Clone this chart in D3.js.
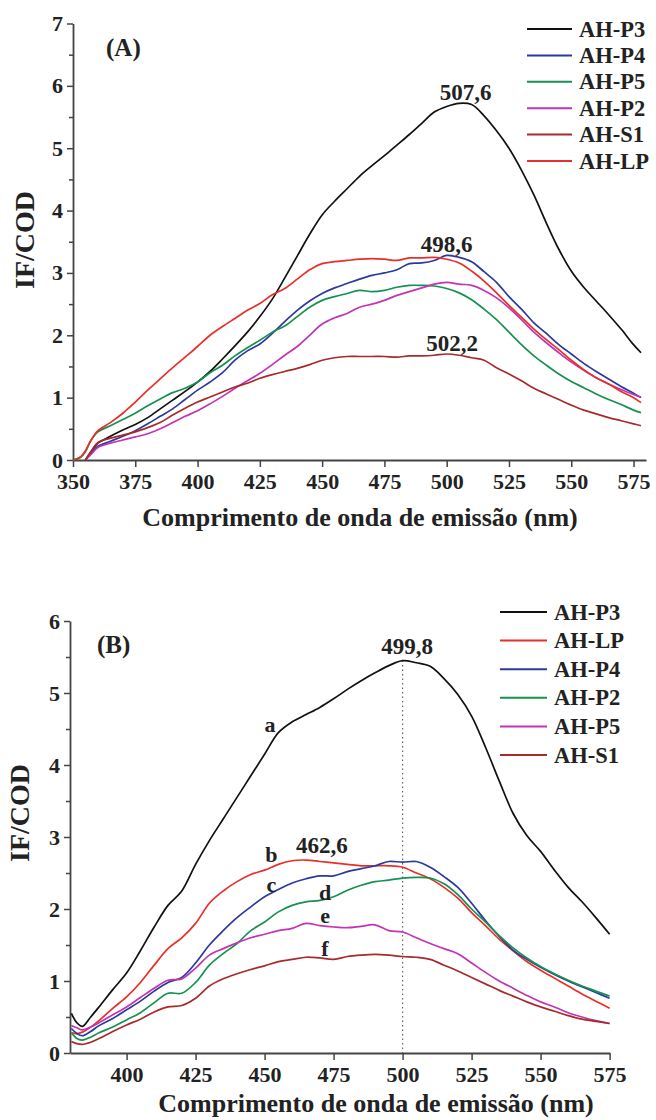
<!DOCTYPE html>
<html>
<head>
<meta charset="utf-8">
<script src="https://cdn.jsdelivr.net/npm/d3@7"></script>
<style>
  body { margin: 0; background: #fff; }
  text { font-family: "Liberation Serif", "Times New Roman", serif; font-weight: bold; fill: #222; }
</style>
</head>
<body>
<script>

// ---- panel A data (emission wavelength, nm / IF/COD) ----
const wlA = [350, 353, 355, 357, 360, 365, 370, 375, 380, 385, 390, 395, 400, 405, 410, 415, 420, 425, 430, 435,
  440, 445, 450, 455, 460, 465, 470, 475, 480, 485, 490, 495, 500, 505, 510, 515, 520, 525, 530, 535,
  540, 545, 550, 555, 560, 565, 570, 575, 578];

const p3A = [null, null, 0, 0.12, 0.27, 0.38, 0.48, 0.57, 0.68, 0.82, 0.96, 1.1, 1.25, 1.42, 1.62, 1.83, 2.05, 2.3, 2.58, 2.92,
  3.27, 3.62, 3.93, 4.15, 4.35, 4.55, 4.72, 4.88, 5.05, 5.22, 5.4, 5.58, 5.67, 5.72, 5.7, 5.52, 5.28, 5.0, 4.65, 4.25,
  3.8, 3.38, 3.03, 2.77, 2.55, 2.33, 2.1, 1.85, 1.72];
const p4A = [null, null, 0, 0.1, 0.22, 0.3, 0.38, 0.47, 0.58, 0.7, 0.82, 0.97, 1.12, 1.25, 1.4, 1.6, 1.75, 1.86, 2.03, 2.22,
  2.4, 2.55, 2.67, 2.76, 2.83, 2.9, 2.96, 3.0, 3.05, 3.15, 3.16, 3.2, 3.28, 3.25, 3.18, 3.02, 2.85, 2.62, 2.42, 2.2,
  2.03, 1.85, 1.7, 1.55, 1.42, 1.3, 1.18, 1.07, 1.0];
const p5A = [0, 0.04, 0.13, 0.3, 0.45, 0.55, 0.65, 0.75, 0.87, 0.98, 1.08, 1.15, 1.25, 1.4, 1.52, 1.67, 1.8, 1.92, 2.05, 2.15,
  2.3, 2.45, 2.56, 2.62, 2.67, 2.72, 2.7, 2.72, 2.77, 2.8, 2.8, 2.79, 2.75, 2.68, 2.57, 2.42, 2.25, 2.05, 1.85, 1.67,
  1.52, 1.38, 1.26, 1.16, 1.06, 0.97, 0.89, 0.8, 0.76];
const p2A = [null, null, 0, 0.08, 0.2, 0.27, 0.32, 0.37, 0.42, 0.5, 0.6, 0.7, 0.79, 0.9, 1.02, 1.15, 1.27, 1.39, 1.53, 1.68,
  1.82, 2.0, 2.18, 2.28, 2.35, 2.45, 2.5, 2.56, 2.64, 2.7, 2.76, 2.82, 2.85, 2.82, 2.8, 2.72, 2.6, 2.44, 2.25, 2.05,
  1.88, 1.72, 1.57, 1.44, 1.32, 1.22, 1.13, 1.05, 1.01];
const s1A = [null, null, 0, 0.12, 0.28, 0.35, 0.4, 0.45, 0.52, 0.6, 0.72, 0.83, 0.93, 1.01, 1.09, 1.17, 1.23, 1.31, 1.37, 1.42,
  1.47, 1.53, 1.6, 1.64, 1.66, 1.66, 1.66, 1.66, 1.65, 1.67, 1.67, 1.68, 1.7, 1.68, 1.64, 1.6, 1.48, 1.38, 1.27, 1.15,
  1.06, 0.97, 0.88, 0.8, 0.74, 0.68, 0.63, 0.58, 0.55];
const lpA = [0, 0.05, 0.15, 0.3, 0.47, 0.6, 0.75, 0.93, 1.12, 1.3, 1.48, 1.65, 1.82, 2.0, 2.14, 2.27, 2.4, 2.51, 2.65, 2.75,
  2.9, 3.05, 3.15, 3.18, 3.2, 3.22, 3.23, 3.22, 3.2, 3.24, 3.24, 3.25, 3.22, 3.16, 3.03, 2.87, 2.68, 2.48, 2.29, 2.1,
  1.93, 1.77, 1.6, 1.45, 1.32, 1.22, 1.1, 1.0, 0.92];

const namesA = ['AH-P3', 'AH-P4', 'AH-P5', 'AH-P2', 'AH-S1', 'AH-LP'];
const peaksA = [['507,6', 507.6, 5.73], ['498,6', 500, 3.28], ['502,2', 502.2, 1.7]];

// ---- panel B data ----
const wlB = [380, 382, 384, 387, 390, 395, 400, 405, 410, 415, 420, 425, 430, 435, 440, 445, 450, 455, 460, 465,
  470, 475, 480, 485, 490, 495, 500, 505, 510, 515, 520, 525, 530, 535, 540, 545, 550, 555, 560, 565, 570, 575];

const p3B = [0.55, 0.42, 0.37, 0.5, 0.64, 0.88, 1.11, 1.42, 1.75, 2.05, 2.25, 2.62, 2.95, 3.25, 3.55, 3.85, 4.15, 4.45, 4.6, 4.7,
  4.8, 4.92, 5.05, 5.17, 5.28, 5.38, 5.45, 5.42, 5.37, 5.2, 4.98, 4.68, 4.25, 3.78, 3.33, 3.02, 2.8, 2.54, 2.3, 2.1, 1.88, 1.65];
const lpB = [0.28, 0.27, 0.29, 0.36, 0.45, 0.62, 0.78, 0.98, 1.22, 1.45, 1.6, 1.8, 2.08, 2.25, 2.38, 2.48, 2.54, 2.62, 2.67, 2.68,
  2.66, 2.64, 2.62, 2.6, 2.6, 2.6, 2.58, 2.5, 2.42, 2.3, 2.15, 1.95, 1.77, 1.58, 1.42, 1.27, 1.15, 1.04, 0.93, 0.82, 0.72, 0.62];
const p4B = [0.34, 0.27, 0.24, 0.3, 0.38, 0.48, 0.6, 0.72, 0.86, 0.98, 1.05, 1.25, 1.5, 1.7, 1.88, 2.03, 2.17, 2.27, 2.36, 2.42,
  2.46, 2.46, 2.52, 2.56, 2.6, 2.66, 2.65, 2.66, 2.58, 2.45, 2.3, 2.08, 1.84, 1.62, 1.43, 1.3, 1.19, 1.09, 1.0, 0.92, 0.84, 0.76];
const p2B = [0.28, 0.2, 0.18, 0.22, 0.28, 0.36, 0.46, 0.56, 0.7, 0.83, 0.83, 0.98, 1.22, 1.38, 1.52, 1.7, 1.82, 1.96, 2.05, 2.1,
  2.12, 2.17, 2.26, 2.33, 2.38, 2.4, 2.43, 2.44, 2.43, 2.35, 2.2, 2.0, 1.82, 1.63, 1.46, 1.32, 1.2, 1.1, 1.01, 0.93, 0.86, 0.79];
const p5B = [0.38, 0.35, 0.32, 0.36, 0.42, 0.53, 0.64, 0.77, 0.9, 1.01, 1.03, 1.18, 1.36, 1.45, 1.53, 1.6, 1.65, 1.7, 1.73, 1.8,
  1.77, 1.75, 1.74, 1.76, 1.78, 1.7, 1.68, 1.6, 1.52, 1.45, 1.38, 1.25, 1.12, 1.0, 0.9, 0.8, 0.71, 0.64, 0.56, 0.5, 0.45, 0.41];
const s1B = [0.16, 0.13, 0.12, 0.15, 0.2, 0.3, 0.39, 0.47, 0.57, 0.64, 0.66, 0.76, 0.93, 1.03, 1.1, 1.16, 1.21, 1.27, 1.3, 1.33,
  1.32, 1.3, 1.34, 1.36, 1.37, 1.36, 1.34, 1.33, 1.3, 1.22, 1.14, 1.05, 0.96, 0.87, 0.79, 0.71, 0.64, 0.58, 0.52, 0.47, 0.44, 0.41];

const namesB = ['AH-P3', 'AH-LP', 'AH-P4', 'AH-P2', 'AH-P5', 'AH-S1'];
const peaksB = [['499,8', 501.6, 5.45], ['462,6', 470.8, 2.68]];
const lettersB = [['a', 452, 4.46], ['b', 452.5, 2.65], ['c', 452.5, 2.24], ['d', 471.9, 2.13], ['e', 471.9, 1.81], ['f', 471.9, 1.35]];


// colours
const cBlack = '#111', cBlue = '#2b3a9c', cGreen = '#169150', cMagenta = '#c135b5', cBrown = '#a82b2b', cRed = '#e8302a';

let svg = d3.select('body').append('svg')
    .attr('width', 656)
    .attr('height', 1120);


function drawPanel(cfg) {
    let g = svg.append('g');

    let x = d3.scaleLinear().domain(cfg.xDomain).range(cfg.xRange);
    let y = d3.scaleLinear().domain(cfg.yDomain).range(cfg.yRange);

    // minor y ticks
    g.append('g')
        .attr('transform', `translate(${cfg.xRange[0]},0)`)
        .call(d3.axisLeft(y).tickValues(d3.range(0.5, cfg.yDomain[1], 1)).tickSize(4).tickFormat(''))
        .call(a => a.select('.domain').remove())
        .call(a => a.selectAll('line').attr('stroke', '#444').attr('stroke-width', 1.5));

    let yAxis = g.append('g')
        .attr('transform', `translate(${cfg.xRange[0]},0)`)
        .call(d3.axisLeft(y).ticks(cfg.yDomain[1]).tickSize(6).tickSizeOuter(0).tickPadding(4).tickFormat(d3.format('d')));

    let xAxis = g.append('g')
        .attr('transform', `translate(0,${cfg.yRange[0]})`)
        .call(d3.axisBottom(x).tickValues(cfg.xTicks).tickSize(7).tickSizeOuter(0).tickPadding(6));

    [xAxis, yAxis].forEach(a => {
        a.select('.domain').attr('stroke', '#444').attr('stroke-width', 1.8);
        a.selectAll('.tick line').attr('stroke', '#444').attr('stroke-width', 1.5);
        a.selectAll('.tick text')
            .attr('font-family', '"Liberation Serif", serif')
            .attr('font-weight', 'bold')
            .attr('font-size', '22px')
            .attr('fill', '#222');
    });

    // axis titles
    g.append('text')
        .attr('x', cfg.xTitle[0])
        .attr('y', cfg.xTitle[1])
        .attr('text-anchor', 'middle')
        .attr('font-size', '26px')
        .text('Comprimento de onda de emissão (nm)');

    g.append('text')
        .attr('transform', `translate(${cfg.yTitle[0]},${cfg.yTitle[1]}) rotate(-90)`)
        .attr('text-anchor', 'middle')
        .attr('font-size', '28px')
        .text('IF/COD');

    // panel tag
    g.append('text')
        .attr('x', cfg.xRange[0] + cfg.tag[1])
        .attr('y', cfg.yRange[1] + cfg.tag[2])
        .attr('font-size', '25px')
        .text(cfg.tag[0]);

    // dotted guide (panel B)
    if (cfg.guide) {
        g.append('line')
            .attr('x1', x(cfg.guide[0]))
            .attr('x2', x(cfg.guide[0]))
            .attr('y1', y(cfg.guide[1]))
            .attr('y2', y(0))
            .attr('stroke', '#666')
            .attr('stroke-width', 1.2)
            .attr('stroke-dasharray', '1.5,3');
    }

    // curves
    let line = d3.line()
        .defined(d => d[1] !== null)
        .x(d => x(d[0]))
        .y(d => y(d[1]))
        .curve(d3.curveCatmullRom.alpha(0.5));

    cfg.series.forEach(s => {
        g.append('path')
            .datum(cfg.wl.map((w, i) => [w, s.values[i]]))
            .attr('fill', 'none')
            .attr('stroke', s.color)
            .attr('stroke-width', 1.7)
            .attr('d', line);
    });

    // peak annotations
    cfg.peaks.forEach(p => {
        g.append('text')
            .attr('x', x(p[1]))
            .attr('y', y(p[2]) - cfg.peakGap)
            .attr('text-anchor', 'middle')
            .attr('font-size', '23px')
            .text(p[0]);
    });

    (cfg.letters || []).forEach(l => {
        g.append('text')
            .attr('x', x(l[1]))
            .attr('y', y(l[2]))
            .attr('text-anchor', 'middle')
            .attr('font-size', '22px')
            .text(l[0]);
    });

    // legend
    let legend = g.selectAll('g.legend')
        .data(cfg.series)
        .enter().append('g')
        .attr('class', 'legend')
        .attr('transform', (d, i) => `translate(${cfg.legend[0]},${cfg.legend[1] + i * cfg.legend[2]})`);

    legend.append('line')
        .attr('x1', 0)
        .attr('x2', cfg.legend[3])
        .attr('stroke', d => d.color)
        .attr('stroke-width', 2);

    legend.append('text')
        .attr('x', cfg.legend[3] + 7)
        .attr('y', 7.5)
        .attr('font-size', '22.5px')
        .text(d => d.name);
}


drawPanel({
    wl: wlA,
    xDomain: [350, 580], xRange: [73, 646],
    yDomain: [0, 7], yRange: [460, 23.5],
    xTicks: d3.range(350, 580, 25),
    xTitle: [360, 526],
    yTitle: [34, 240],
    tag: ['(A)', 33, 32],
    peaks: peaksA,
    peakGap: 3,
    legend: [527, 29, 26.4, 45],
    series: [
        {name: namesA[0], values: p3A, color: cBlack},
        {name: namesA[1], values: p4A, color: cBlue},
        {name: namesA[2], values: p5A, color: cGreen},
        {name: namesA[3], values: p2A, color: cMagenta},
        {name: namesA[4], values: s1A, color: cBrown},
        {name: namesA[5], values: lpA, color: cRed}
    ]
});

drawPanel({
    wl: wlB,
    xDomain: [379.5, 575], xRange: [70, 609.6],
    yDomain: [0, 6], yRange: [1053, 621],
    xTicks: d3.range(400, 576, 25),
    xTitle: [376, 1112],
    yTitle: [29, 813],
    tag: ['(B)', 27, 32],
    guide: [500, 5.45],
    peaks: peaksB,
    peakGap: 7,
    letters: lettersB,
    legend: [500, 612, 28.6, 47],
    series: [
        {name: namesB[0], values: p3B, color: cBlack},
        {name: namesB[1], values: lpB, color: cRed},
        {name: namesB[2], values: p4B, color: cBlue},
        {name: namesB[3], values: p2B, color: cGreen},
        {name: namesB[4], values: p5B, color: cMagenta},
        {name: namesB[5], values: s1B, color: cBrown}
    ]
});

</script>
</body>
</html>
